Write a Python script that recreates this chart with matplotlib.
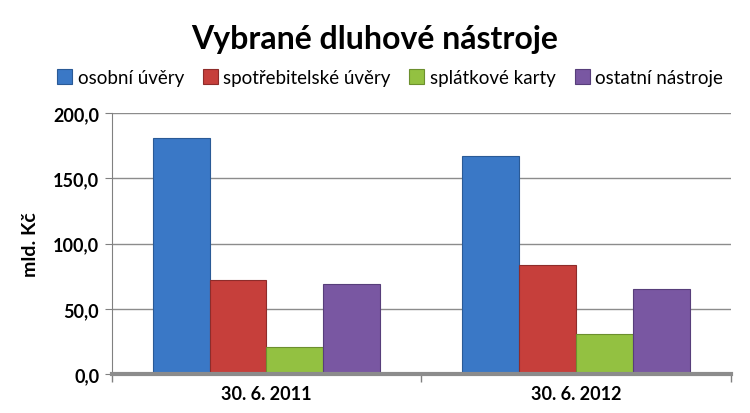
import matplotlib.pyplot as plt
import numpy as np

plt.rcParams['font.family'] = ['Lato', 'DejaVu Sans']

obdobi = ['30. 6. 2011', '30. 6. 2012']
serie = ['osobní úvěry', 'spotřebitelské úvěry', 'splátkové karty', 'ostatní nástroje']
osobni = [180.8, 167.0]
spotrebitelske = [72.0, 83.5]
splatkove = [20.8, 30.7]
ostatni = [69.0, 65.1]
hodnoty = [osobni, spotrebitelske, splatkove, ostatni]

barvy = ['#3a78c6', '#c63f3b', '#93c141', '#7957a2']
okraje = ['#2a5a96', '#8e2c2a', '#6c8f2e', '#573e7a']

fig = plt.figure(figsize=(7.5, 4.14), dpi=100)
ax = fig.add_axes([0.149, 0.094, 0.825, 0.63])

x = np.arange(len(obdobi))
w = 0.184
for i, (nazev, val) in enumerate(zip(serie, hodnoty)):
    ax.bar(x + (i - 1.5) * w, val, w, color=barvy[i], edgecolor=okraje[i],
           linewidth=0.8, label=nazev, zorder=3)

ax.set_xlim(-0.5, 1.5)
ax.set_ylim(0, 200)
ax.set_yticks(np.arange(0, 201, 50))
ax.set_yticklabels([f'{v:.1f}'.replace('.', ',') for v in np.arange(0, 201, 50)],
                   fontsize=13, fontweight='bold')
ax.set_xticks(x)
ax.set_xticklabels(obdobi, fontsize=13, fontweight='bold')
ax.tick_params(axis='x', length=0, pad=8)
ax.set_xticks([-0.5, 0.5, 1.5], minor=True)
ax.tick_params(axis='x', which='minor', length=6, color='#808080', width=1)
ax.tick_params(axis='y', length=5, color='#808080', pad=4)
ax.yaxis.grid(True, color='#8c8c8c', linewidth=1, zorder=0)
for s in ['top', 'right']:
    ax.spines[s].set_visible(False)
ax.spines['left'].set_color('#808080')
ax.spines['bottom'].set_color('#8c8c8c')
ax.spines['bottom'].set_linewidth(3)
ax.spines['bottom'].set_zorder(4)

ax.set_ylabel('mld. Kč', fontsize=14, fontweight='bold', labelpad=10)

fig.text(0.5, 0.905, 'Vybrané dluhové nástroje', ha='center', va='center',
         fontsize=23, fontweight='bold')
fig.legend(loc='center', bbox_to_anchor=(0.52, 0.81), ncol=4, frameon=False,
           fontsize=13.5, handlelength=0.8, handleheight=0.8, handletextpad=0.3,
           columnspacing=1.0)

fig.savefig('out.png', dpi=100)
